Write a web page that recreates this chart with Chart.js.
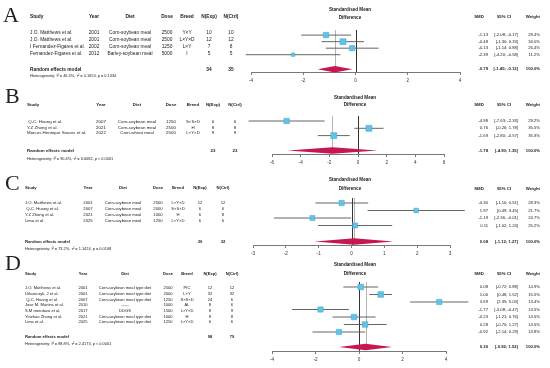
<!DOCTYPE html>
<html><head><meta charset="utf-8">
<script src="https://cdn.jsdelivr.net/npm/chart.js@4.4.1/dist/chart.umd.min.js"></script>
<style>
html,body{margin:0;padding:0;background:#fff;}
#wrap{position:relative;width:550px;height:368px;overflow:hidden;background:#fff;}
#wrap canvas{position:absolute;left:0;top:0;}
</style></head><body>
<div id="wrap">
<canvas id="cA" width="550" height="368"></canvas>
<canvas id="cB" width="550" height="368"></canvas>
<canvas id="cC" width="550" height="368"></canvas>
<canvas id="cD" width="550" height="368"></canvas>
</div>
<script>
// ---------- DATA ----------
const headerLeft = ['Study','Year','Diet','Dose','Breed','N(Exp)','N(Ctrl)'];
const headerRight = ['SMD','95% CI','Weight'];
const plotTitle = ['Standardised Mean','Difference'];
const reLabel = 'Random effects model';

// Panel A
const studiesA = ['J.O. Matthews et al.','J.O. Matthews et al.','I Fernandez-Figares et al.','Fernandez-Figares et al.'];
const yearsA = ['2001','2001','2002','2012'];
const dietsA = ['Corn-soybean meal','Corn-soybean meal','Corn-soybean meal','Barley-soybean meal'];
const dosesA = ['2500','2500','1250','5000'];
const breedsA = ['Y×Y','L×Y×D','L×Y','I'];
const nExpA = [10,12,7,5];
const nCtrlA = [10,12,8,5];
const smdA = [-1.13,-0.48,-0.13,-2.39];
const lowerA = [-2.08,-1.30,-1.14,-4.20];
const upperA = [-0.17,0.33,0.88,-0.58];
const weightA = [28.4,34.0,26.4,11.2];
const pooledA = [-0.79,-1.45,-0.12];
const totalsA = [34,35];
const hetA = 'Heterogeneity: I² = 46.3%, τ² = 0.1653, p = 0.1334';
const ticksA = [-4,-2,0,2,4];

// Panel B
const studiesB = [' Q-C. Huang et al.','Y.Z Zhong et al.','Marcos Henrique Soares et al.'];
const yearsB = ['2007','2021','2022'];
const dietsB = ['Corn-soybean meal','Corn-soybean meal','Corn-wheat meal'];
const dosesB = ['1250','2500','2500'];
const breedsB = ['S×S×D','H','L×Y×D'];
const nExpB = [6,8,9];
const nCtrlB = [6,8,9];
const smdB = [-4.98,0.76,-1.69];
const lowerB = [-7.63,-0.26,-2.80];
const upperB = [-2.33,1.78,-0.57];
const weightB = [29.2,35.5,35.3];
const pooledB = [-1.78,-4.90,1.35];
const totalsB = [23,23];
const hetB = 'Heterogeneity: I² = 90.4%, τ² = 6.6082, p < 0.0001';
const ticksB = [-6,-4,-2,0,2,4,6];

// Panel C
const studiesC = ['J.O. Matthews et al.',' Q-C. Huang et al.','Y.Z Zhong et al.','Lima et al.'];
const yearsC = ['2001','2007','2021','2025'];
const dietsC = ['Corn-soybean meal','Corn-soybean meal','Corn-soybean meal','Corn-soybean meal'];
const dosesC = ['2500','2000','1000','1250'];
const breedsC = ['L×Y×D','S×S×D','H','L×Y×D'];
const nExpC = [12,6,6,6];
const nCtrlC = [12,6,8,6];
const smdC = [-0.30,1.97,-1.19,0.11];
const lowerC = [-1.10,0.49,-2.36,-1.02];
const upperC = [0.51,3.45,-0.01,1.24];
const weightC = [28.3,21.7,24.7,25.2];
const pooledC = [0.08,-1.12,1.27];
const totalsC = [30,32];
const hetC = 'Heterogeneity: I² = 73.2%, τ² = 1.1424, p = 0.0108';
const ticksC = [-3,-2,-1,0,1,2,3];

// Panel D
const studiesD = ['J.O. Matthews et al.','Urbanczyk, J et al.',' Q-C. Huang et al.','Jose M. Martins et al.','S.M mendoza et al.','Yinzhao Zhong et al.','Lima et al.'];
const yearsD = ['2001','2001','2007','2010','2017','2021','2025'];
const dietsD = ['Corn-soybean meal type diet','Corn-soybean meal type diet','Corn-soybean meal type diet','——','DDGS','Corn-soybean meal type diet','Corn-soybean meal type diet'];
const dosesD = ['2500','2000','1250','1000','1500','1000','1250'];
const breedsD = ['PIC','L×Y','S×S×D','AL','L×Y×D','H','L×Y×D'];
const nExpD = [12,32,24,8,8,8,6];
const nCtrlD = [12,32,6,6,9,8,6];
const smdD = [0.08,1.00,3.69,-1.77,-0.23,0.28,-0.92];
const lowerD = [-0.72,0.48,2.35,-3.08,-1.21,-0.70,-2.14];
const upperD = [0.88,1.52,5.03,-0.47,0.76,1.27,0.29];
const weightD = [14.9,15.5,13.4,13.5,14.5,14.5,13.8];
const pooledD = [0.30,-0.92,1.52];
const totalsD = [98,79];
const hetD = 'Heterogeneity: I² = 88.8%, τ² = 2.4173, p < 0.0001';
const ticksD = [-4,-2,0,2,4];

// ---------- LAYOUT (pixels) ----------
const layoutA = {letter:'A', top:0, axisY:72, xMin:251, xMax:460, rowTop:32.5, pitch:7, reY:69, zeroTop:27, sq:6,
  letterX:3, letterY:22, titleY:[10,18], titleX:350, hdrRY:17,
  t:{hdrY:17, rowTop:32.5, pitch:7, reY:70, hetY:76, font:4.8, cols:[30,94,130,167,187,209,231]}};
const layoutB = {letter:'B', top:85, axisY:154, xMin:272, xMax:444, rowTop:121, pitch:7.3, reY:150.5, zeroTop:116, sq:6,
  letterX:5, letterY:103, titleY:[98,105], titleX:355, hdrRY:105,
  t:{hdrY:105, rowTop:122, pitch:5.6, reY:151, hetY:159, font:4.4, cols:[27,101,137,171,193,213,235]}};
const layoutC = {letter:'C', top:165, axisY:245, xMin:253, xMax:450, rowTop:203, pitch:7.5, reY:241.5, zeroTop:198, sq:5.3,
  letterX:5, letterY:190, titleY:[180,189], titleX:350, hdrRY:189,
  t:{hdrY:188, rowTop:203, pitch:6, reY:242, hetY:249, font:4.2, cols:[25,88,123,158,178,200,223]}};
const layoutD = {letter:'D', top:258, axisY:351, xMin:272, xMax:446, rowTop:287, pitch:7.5, reY:347, zeroTop:282, sq:5.7,
  letterX:5, letterY:270, titleY:[265,274], titleX:355, hdrRY:274,
  t:{hdrY:274, rowTop:288, pitch:5.7, reY:337, hetY:344, font:4.1, cols:[25,83,125,168,187,210,232]}};

const FONT = '"Liberation Sans", Arial, sans-serif';
const SERIF = '"Liberation Serif", "Times New Roman", serif';
const SQ_FILL = '#62C3E4', SQ_EDGE = '#3FA6D0', DOT = '#1d5f8f', DIA = '#C8174F';

function makePanel(canvasId, P, L) {
  const wmax = Math.max(...P.weight);
  const radii = P.weight.map(w => L.sq * Math.sqrt(w / wmax) / Math.SQRT2);
  const reRow = (L.reY - L.rowTop) / L.pitch;
  const plugin = {
    id: 'forest' + L.letter,
    beforeDatasetsDraw(chart) {
      const ctx = chart.ctx, xs = chart.scales.x, ys = chart.scales.y;
      ctx.save();
      const yTop = ys.getPixelForValue((L.zeroTop - L.rowTop) / L.pitch);
      const xr = Math.round(xs.getPixelForValue(P.pooled[0])) + 0.5;
      ctx.strokeStyle = '#b5b5b5'; ctx.lineWidth = 1;
      ctx.beginPath(); ctx.moveTo(xr, yTop); ctx.lineTo(xr, ys.getPixelForValue(reRow)); ctx.stroke();
      const x0 = Math.round(xs.getPixelForValue(0)) + 0.5;
      ctx.strokeStyle = '#333'; ctx.lineWidth = 1;
      ctx.beginPath(); ctx.moveTo(x0, yTop); ctx.lineTo(x0, chart.chartArea.bottom); ctx.stroke();
      ctx.strokeStyle = '#555'; ctx.lineWidth = 0.9;
      P.smd.forEach((v, i) => {
        const y = ys.getPixelForValue(i);
        ctx.beginPath(); ctx.moveTo(xs.getPixelForValue(P.lower[i]), y); ctx.lineTo(xs.getPixelForValue(P.upper[i]), y); ctx.stroke();
      });
      ctx.restore();
    },
    afterDatasetsDraw(chart) {
      const ctx = chart.ctx, xs = chart.scales.x, ys = chart.scales.y;
      const y = ys.getPixelForValue(reRow), h = 3.2;
      ctx.save();
      ctx.fillStyle = DIA;
      ctx.beginPath();
      ctx.moveTo(xs.getPixelForValue(P.pooled[1]), y);
      ctx.lineTo(xs.getPixelForValue(P.pooled[0]), y - h);
      ctx.lineTo(xs.getPixelForValue(P.pooled[2]), y);
      ctx.lineTo(xs.getPixelForValue(P.pooled[0]), y + h);
      ctx.closePath(); ctx.fill();
      ctx.restore();
    },
    afterDraw(chart) {
      const ctx = chart.ctx, ys = chart.scales.y, T = L.t, c = T.cols;
      ctx.save();
      ctx.fillStyle = '#222';
      ctx.textBaseline = 'alphabetic';
      ctx.font = '22px ' + SERIF; ctx.textAlign = 'left';
      ctx.fillText(L.letter, L.letterX, L.letterY);
      ctx.textBaseline = 'middle';
      // left table header
      ctx.font = 'bold ' + T.font + 'px ' + FONT;
      headerLeft.forEach((h, k) => {
        ctx.textAlign = k === 0 ? 'left' : 'center';
        ctx.fillText(h, c[k], T.hdrY);
      });
      ctx.font = T.font + 'px ' + FONT;
      P.studies.forEach((s, i) => {
        const y = T.rowTop + i * T.pitch;
        const vals = [s, P.years[i], P.diets[i], P.doses[i], P.breeds[i], String(P.nExp[i]), String(P.nCtrl[i])];
        vals.forEach((v, k) => { ctx.textAlign = k === 0 ? 'left' : 'center'; ctx.fillText(v, c[k], y); });
      });
      ctx.font = 'bold ' + T.font + 'px ' + FONT;
      ctx.textAlign = 'left'; ctx.fillText(reLabel, c[0], T.reY);
      ctx.textAlign = 'center';
      ctx.fillText(String(P.totals[0]), c[5], T.reY);
      ctx.fillText(String(P.totals[1]), c[6], T.reY);
      ctx.font = '3.9px ' + FONT; ctx.textAlign = 'left';
      ctx.fillText(P.het, c[0], T.hetY);
      // plot title
      ctx.font = 'bold 4.6px ' + FONT; ctx.textAlign = 'center';
      ctx.fillText(plotTitle[0], L.titleX, L.titleY[0]);
      ctx.fillText(plotTitle[1], L.titleX, L.titleY[1]);
      // right table
      ctx.font = 'bold 4.3px ' + FONT;
      ctx.textAlign = 'center'; ctx.fillText(headerRight[0], 479, L.hdrRY);
      ctx.fillText(headerRight[1], 504, L.hdrRY);
      ctx.textAlign = 'right'; ctx.fillText(headerRight[2], 540, L.hdrRY);
      ctx.font = '4.2px ' + FONT;
      const rowR = (y, s, lo, hi, w) => {
        ctx.textAlign = 'right';
        ctx.fillText(s.toFixed(2), 488, y);
        ctx.fillText('[' + lo.toFixed(2) + '; ' + hi.toFixed(2) + ']', 518, y);
        ctx.fillText(w.toFixed(1) + '%', 540, y);
      };
      P.smd.forEach((s, i) => rowR(ys.getPixelForValue(i), s, P.lower[i], P.upper[i], P.weight[i]));
      ctx.font = 'bold 4.2px ' + FONT;
      rowR(ys.getPixelForValue(reRow), P.pooled[0], P.pooled[1], P.pooled[2], 100);
      ctx.restore();
    }
  };
  const ticks = P.ticks;
  return new Chart(document.getElementById(canvasId), {
    type: 'scatter',
    data: { datasets: [
      { data: P.smd.map((v, i) => ({x: v, y: i})), pointStyle: 'rect', pointRadius: radii,
        backgroundColor: SQ_FILL, borderColor: SQ_EDGE, borderWidth: 0.5, clip: false },
      { data: P.smd.map((v, i) => ({x: v, y: i})), pointStyle: 'rect', pointRadius: 0.9,
        backgroundColor: DOT, borderWidth: 0, clip: false }
    ]},
    options: {
      responsive: false, animation: false, events: [],
      layout: { padding: { left: L.xMin, right: 550 - L.xMax, top: L.top, bottom: 368 - L.axisY - 12 } },
      plugins: { legend: { display: false }, tooltip: { enabled: false } },
      scales: {
        x: {
          type: 'linear', min: ticks[0], max: ticks[ticks.length - 1],
          afterBuildTicks: s => { s.ticks = ticks.map(v => ({value: v})); },
          afterFit: s => { s.height = 12; s.paddingLeft = 0; s.paddingRight = 0; },
          grid: { display: true, drawOnChartArea: false, drawTicks: true, tickLength: 3, color: '#555', lineWidth: 0.8 },
          border: { display: true, color: '#555', width: 0.8 },
          ticks: { font: { size: 4.6, family: FONT }, color: '#333', padding: 2.5, maxRotation: 0, autoSkip: false }
        },
        y: {
          type: 'linear', display: false, reverse: true, bounds: 'data',
          min: (L.top - L.rowTop) / L.pitch, max: (L.axisY - L.rowTop) / L.pitch
        }
      }
    },
    plugins: [plugin]
  });
}

makePanel('cA', {studies:studiesA, years:yearsA, diets:dietsA, doses:dosesA, breeds:breedsA, nExp:nExpA, nCtrl:nCtrlA,
  smd:smdA, lower:lowerA, upper:upperA, weight:weightA, pooled:pooledA, totals:totalsA, het:hetA, ticks:ticksA}, layoutA);
makePanel('cB', {studies:studiesB, years:yearsB, diets:dietsB, doses:dosesB, breeds:breedsB, nExp:nExpB, nCtrl:nCtrlB,
  smd:smdB, lower:lowerB, upper:upperB, weight:weightB, pooled:pooledB, totals:totalsB, het:hetB, ticks:ticksB}, layoutB);
makePanel('cC', {studies:studiesC, years:yearsC, diets:dietsC, doses:dosesC, breeds:breedsC, nExp:nExpC, nCtrl:nCtrlC,
  smd:smdC, lower:lowerC, upper:upperC, weight:weightC, pooled:pooledC, totals:totalsC, het:hetC, ticks:ticksC}, layoutC);
makePanel('cD', {studies:studiesD, years:yearsD, diets:dietsD, doses:dosesD, breeds:breedsD, nExp:nExpD, nCtrl:nCtrlD,
  smd:smdD, lower:lowerD, upper:upperD, weight:weightD, pooled:pooledD, totals:totalsD, het:hetD, ticks:ticksD}, layoutD);
</script>
</body></html>
